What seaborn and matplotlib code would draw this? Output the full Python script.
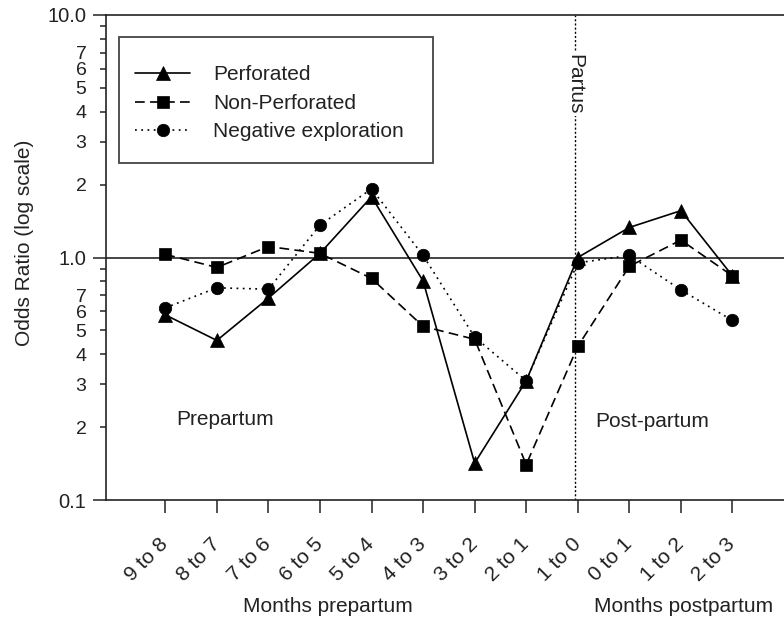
import numpy as np
import pandas as pd
import matplotlib
matplotlib.use("Agg")
import matplotlib.pyplot as plt
import matplotlib.ticker as mticker
from matplotlib.patches import Rectangle
import seaborn as sns

categories = ["9 to 8", "8 to 7", "7 to 6", "6 to 5", "5 to 4", "4 to 3",
              "3 to 2", "2 to 1", "1 to 0", "0 to 1", "1 to 2", "2 to 3"]
perforated = [0.58, 0.455, 0.68, 1.04, 1.78, 0.80, 0.142, 0.31, 1.0, 1.33, 1.56, 0.84]
non_perforated = [1.03, 0.91, 1.11, 1.04, 0.82, 0.52, 0.46, 0.14, 0.43, 0.92, 1.18, 0.84]
negative_exploration = [0.62, 0.75, 0.74, 1.36, 1.92, 1.02, 0.47, 0.31, 0.95, 1.02, 0.735, 0.55]
series_names = ["Perforated", "Non-Perforated", "Negative exploration"]
partus_position = 7.95

sns.set_style("ticks")
plt.rcParams["font.family"] = ["Liberation Sans", "DejaVu Sans"]
plt.rcParams["lines.scale_dashes"] = False
FS = 15

fig = plt.figure(figsize=(7.84, 6.29), dpi=100)
ax = fig.add_axes([106 / 784, 1 - 500 / 629, (784 - 106) / 784, (500 - 15) / 629])

x = np.arange(len(categories))
df = pd.DataFrame({"x": x, "Perforated": perforated,
                   "Non-Perforated": non_perforated,
                   "Negative exploration": negative_exploration})

styles = {
    "Perforated": dict(marker="^", ms=10.5, linestyle="-"),
    "Non-Perforated": dict(marker="s", ms=9, linestyle=(0, (7, 3.8))),
    "Negative exploration": dict(marker="o", ms=9, linestyle=(0, (1.3, 3.2))),
}
handles = []
for name in series_names:
    st = styles[name]
    sns.lineplot(data=df, x="x", y=name, ax=ax, color="black", lw=1.2,
                 marker=st["marker"], ms=st["ms"], mec="black", mfc="black",
                 mew=0.5, linestyle=st["linestyle"], label=name, legend=False,
                 zorder=3)
    handles.append(ax.lines[-1])

ax.axhline(1.0, color="#444444", lw=1.4, zorder=2)
ax.axvline(partus_position, color="black", lw=1.0, linestyle=(0, (1.5, 1.5)), zorder=1)
ax.text(partus_position, 5.2, "Partus", rotation=270, ha="center", va="center",
        fontsize=FS, color="#222222",
        bbox=dict(facecolor="white", edgecolor="none", pad=1.5), zorder=2)

ax.text(1.16, 0.214, "Prepartum", ha="center", va="center", fontsize=FS, color="#222222")
ax.text(9.45, 0.211, "Post-partum", ha="center", va="center", fontsize=FS, color="#222222")

ax.set_yscale("log")
ax.set_ylim(0.1, 10)
ax.set_xlim(-1.15, 12.0)

ax.yaxis.set_major_locator(mticker.FixedLocator([0.1, 1.0, 10.0]))
ax.yaxis.set_major_formatter(mticker.FixedFormatter(["0.1", "1.0", "10.0"]))
minor_vals = [0.2, 0.3, 0.4, 0.5, 0.6, 0.7, 0.8, 0.9, 2, 3, 4, 5, 6, 7, 8, 9]
minor_labs = ["2", "3", "4", "5", "6", "7", "", "", "2", "3", "4", "5", "6", "7", "", ""]
ax.yaxis.set_minor_locator(mticker.FixedLocator(minor_vals))
ax.yaxis.set_minor_formatter(mticker.FixedFormatter(minor_labs))

ax.set_xticks(x)
ax.set_xticklabels(categories, rotation=45, ha="right", va="center", rotation_mode="anchor")
ax.xaxis.set_minor_locator(mticker.NullLocator())

ax.tick_params(axis="y", which="major", length=9.5, width=1.1, pad=4.5,
               labelsize=14.5, colors="#222222")
ax.tick_params(axis="y", which="minor", length=4.5, width=1.1, pad=9.5,
               labelsize=14, colors="#222222")
ax.tick_params(axis="x", which="major", length=9.4, width=1.1, pad=20,
               labelsize=FS, colors="#222222")

ax.set_xlabel("")
ax.set_ylabel("")
for s in ["left", "bottom", "top"]:
    ax.spines[s].set_color("#222222")
    ax.spines[s].set_linewidth(1.2)
ax.spines["right"].set_visible(False)
ax.set_facecolor("white")

fig.text(25 / 784, 1 - 243 / 629, "Odds Ratio (log scale)", rotation=90,
         ha="center", va="center", fontsize=FS, color="#222222")
fig.text(327.5 / 784, 1 - 606 / 629, "Months prepartum", ha="center", va="center",
         fontsize=FS, color="#222222")
fig.text(684 / 784, 1 - 606 / 629, "Months postpartum", ha="center", va="center",
         fontsize=FS, color="#222222")

# legend box
bx0, bx1 = (119 - 106) / 678, (433 - 106) / 678
by0, by1 = (500 - 163) / 485, (500 - 37) / 485
ax.add_patch(Rectangle((bx0, by0), bx1 - bx0, by1 - by0, transform=ax.transAxes,
                       facecolor="white", edgecolor="#444444", lw=1.3, zorder=4))
leg = ax.legend(handles=handles, labels=series_names, loc="upper left",
                bbox_to_anchor=((135 - 106) / 678, (500 - 65.5) / 485),
                frameon=False, fontsize=FS, handlelength=2.65, handletextpad=1.1,
                labelspacing=0.45, borderpad=0, borderaxespad=0)
leg.set_zorder(5)
for t in leg.get_texts():
    t.set_color("#222222")

fig.savefig("out.png", dpi=100, facecolor="white")
